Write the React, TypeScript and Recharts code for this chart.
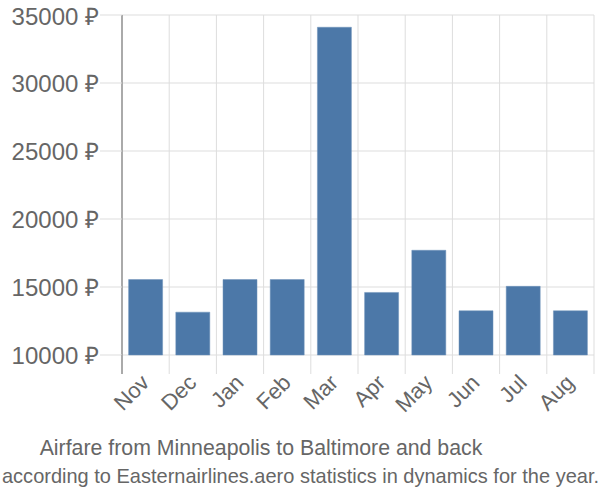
import React from "react";
import { BarChart, Bar, XAxis, YAxis, CartesianGrid, ReferenceLine } from "recharts";

const MONTHS = ["Nov", "Dec", "Jan", "Feb", "Mar", "Apr", "May", "Jun", "Jul", "Aug"];
const PRICES = [15550, 13150, 15550, 15550, 34100, 14600, 17700, 13250, 15050, 13250];
const Y_TICKS = [10000, 15000, 20000, 25000, 30000, 35000];
const TITLE = "Airfare from Minneapolis to Baltimore and back";
const SUBTITLE = "according to Easternairlines.aero statistics in dynamics for the year.";

const FONT = "'Liberation Sans', Arial, sans-serif";
const TEXT = "#666";
const GRID = "#ddd";

// pos = middle of each month's band on a 0..n linear axis
const data = MONTHS.map((m, i) => ({ month: m, price: PRICES[i], pos: i + 0.5 }));

// boundary ticks (0..n) draw the grid stub, half ticks carry the month label
const gridTicks: number[] = [];
for (let i = 0; i <= MONTHS.length; i++) {
  gridTicks.push(i);
  if (i < MONTHS.length) gridTicks.push(i + 0.5);
}

function MonthTick(props: any) {
  const { x, y, payload } = props;
  const v = payload.value as number;
  if (Number.isInteger(v)) {
    return <line x1={x} y1={y} x2={x} y2={y + 19} stroke={v === 0 ? "#aaa" : GRID} strokeWidth={v === 0 ? 2 : 1} />;
  }
  const ax = x + 5;
  const ay = y + 29;
  return (
    <text x={ax} y={ay} transform={`rotate(-45 ${ax} ${ay})`} textAnchor="end" fill={TEXT} fontSize={22} fontFamily={FONT}>
      {MONTHS[Math.floor(v)]}
    </text>
  );
}

export default function App() {
  return (
    <div style={{ position: "absolute", left: 0, top: 0, width: 600, height: 500, background: "#fff" }}>
      <BarChart width={600} height={500} data={data} margin={{ top: 15, right: 6, left: 0, bottom: 0 }} barCategoryGap="14%">
        <CartesianGrid vertical={false} stroke={GRID} />
        <XAxis xAxisId="cat" dataKey="month" hide height={0} />
        <XAxis
          xAxisId="grid"
          dataKey="pos"
          type="number"
          domain={[0, MONTHS.length]}
          allowDataOverflow
          ticks={gridTicks}
          interval={0}
          height={145}
          tickSize={0}
          tickMargin={0}
          tickLine={false}
          axisLine={false}
          tick={<MonthTick />}
        />
        <YAxis
          domain={[10000, 35000]}
          ticks={Y_TICKS}
          width={122}
          tickSize={22}
          tickMargin={1}
          tickLine={{ stroke: GRID }}
          axisLine={false}
          tickFormatter={(v: number) => `${v} ₽`}
          tick={{ fill: TEXT, fontSize: 24, fontFamily: FONT }}
        />
        {gridTicks
          .filter((t) => Number.isInteger(t))
          .map((t) => (
            <ReferenceLine key={t} xAxisId="grid" x={t} stroke={t === 0 ? "#aaa" : GRID} strokeWidth={t === 0 ? 2 : 1} />
          ))}
        <Bar xAxisId="cat" dataKey="price" fill="#4c78a8" stroke="#6f93bb" strokeWidth={0.5} isAnimationActive={false} />
      </BarChart>
      <svg width={600} height={60} style={{ position: "absolute", left: 0, top: 435 }}>
        <text x={261} y={20} textAnchor="middle" fill={TEXT} fontSize={21.3} fontFamily={FONT}>
          {TITLE}
        </text>
        <text x={2} y={48} textLength={597} lengthAdjust="spacingAndGlyphs" fill={TEXT} fontSize={21} fontFamily={FONT}>
          {SUBTITLE}
        </text>
      </svg>
    </div>
  );
}
